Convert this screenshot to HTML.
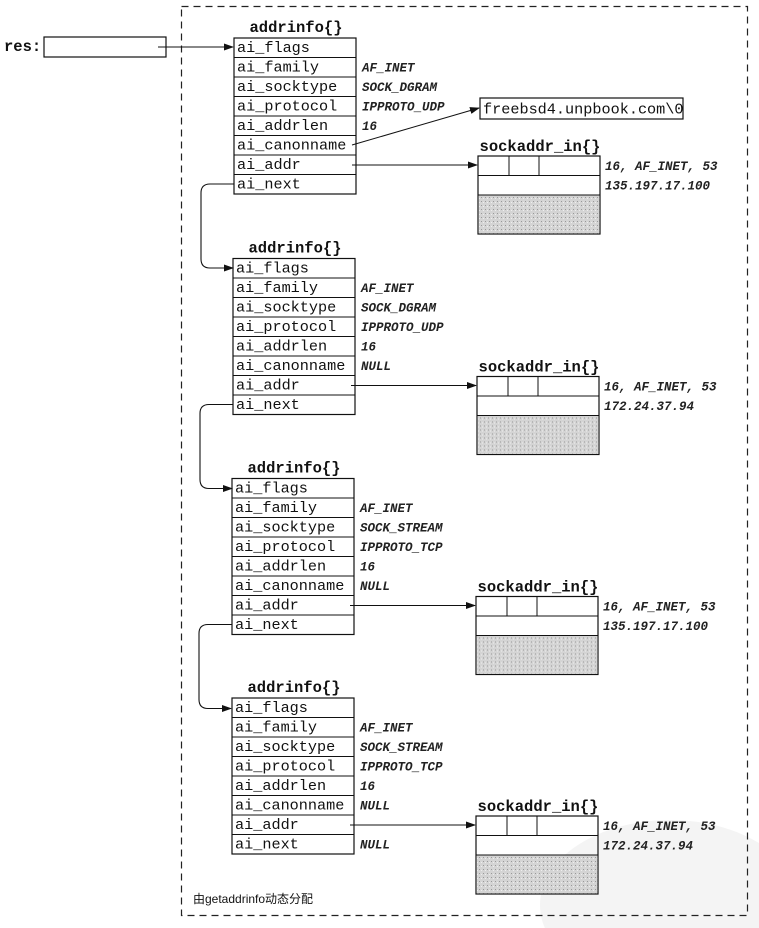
<!DOCTYPE html>
<html><head><meta charset="utf-8"><style>
html,body{margin:0;padding:0;background:#fff;overflow:hidden;width:759px;height:928px}
svg{display:block}
.f{font-family:"Liberation Mono",monospace;font-size:15.2px;fill:#111}
.t{font-family:"Liberation Mono",monospace;font-size:15.5px;font-weight:bold;fill:#111}
.v{font-family:"Liberation Mono",monospace;font-size:12.5px;font-style:italic;font-weight:bold;fill:#222}
.c{font-family:"Liberation Sans","Noto Sans CJK SC",sans-serif;font-size:12px;fill:#111}
</style></head><body>
<svg width="759" height="928" viewBox="0 0 759 928" xmlns="http://www.w3.org/2000/svg">
<defs>
<marker id="a" markerWidth="10" markerHeight="8" refX="9" refY="4" orient="auto" markerUnits="userSpaceOnUse"><path d="M0,0.5 L10,4 L0,7.5Z" fill="#111"/></marker>
<pattern id="g" width="4" height="4" patternUnits="userSpaceOnUse"><rect width="4" height="4" fill="#d4d4d4"/><rect x="1" y="1" width="1" height="1" fill="#999"/><rect x="3" y="2" width="1" height="1" fill="#eee"/></pattern>
<g id="blk">
<text class="t" x="296" y="32" text-anchor="middle">addrinfo{}</text>
<rect x="234" y="38" width="122" height="156" fill="none" stroke="#111" stroke-width="1.2"/>
<g stroke="#111" stroke-width="1"><line x1="234" y1="57.5" x2="356" y2="57.5"/><line x1="234" y1="77" x2="356" y2="77"/><line x1="234" y1="96.5" x2="356" y2="96.5"/><line x1="234" y1="116" x2="356" y2="116"/><line x1="234" y1="135.5" x2="356" y2="135.5"/><line x1="234" y1="155" x2="356" y2="155"/><line x1="234" y1="174.5" x2="356" y2="174.5"/></g>
<text class="f" x="237" y="52">ai_flags</text>
<text class="f" x="237" y="71.5">ai_family</text>
<text class="f" x="237" y="91">ai_socktype</text>
<text class="f" x="237" y="110.5">ai_protocol</text>
<text class="f" x="237" y="130">ai_addrlen</text>
<text class="f" x="237" y="149.5">ai_canonname</text>
<text class="f" x="237" y="169">ai_addr</text>
<text class="f" x="237" y="188.5">ai_next</text>
<text class="t" x="540" y="151" text-anchor="middle">sockaddr_in{}</text>
<rect x="478" y="156" width="122" height="78" fill="none" stroke="#111" stroke-width="1.2"/>
<rect x="478.6" y="195" width="120.8" height="38.4" fill="url(#g)"/>
<g stroke="#111" stroke-width="1"><line x1="478" y1="175.5" x2="600" y2="175.5"/><line x1="478" y1="195" x2="600" y2="195"/><line x1="509" y1="156" x2="509" y2="175.5"/><line x1="539" y1="156" x2="539" y2="175.5"/></g>
<line x1="352" y1="165" x2="477" y2="165" stroke="#111" stroke-width="1" marker-end="url(#a)"/>
<text class="v" x="605" y="170">16, AF_INET, 53</text>
</g>
<path id="nx" d="M234,184 L210,184 Q201,184 201,193 L201,259 Q201,268 210,268 L233,268" fill="none" stroke="#111" stroke-width="1.1" marker-end="url(#a)"/>
</defs>

<ellipse cx="670" cy="905" rx="130" ry="85" fill="#f4f4f4"/>
<rect x="181.5" y="6.5" width="566" height="909" fill="none" stroke="#222" stroke-width="1.2" stroke-dasharray="7,5"/>

<text class="t" x="4" y="51">res:</text>
<rect x="44" y="37" width="122" height="20" fill="none" stroke="#111" stroke-width="1.2"/>
<line x1="158" y1="47" x2="233" y2="47" stroke="#111" stroke-width="1" marker-end="url(#a)"/>

<use href="#blk"/>
<text class="v" x="362" y="71.5">AF_INET</text>
<text class="v" x="362" y="91">SOCK_DGRAM</text>
<text class="v" x="362" y="110.5">IPPROTO_UDP</text>
<text class="v" x="362" y="130">16</text>
<text class="v" x="605" y="189.5">135.197.17.100</text>
<rect x="480" y="98" width="203" height="21" fill="#fff" stroke="#111" stroke-width="1.2"/>
<text class="f" x="483" y="113.5">freebsd4.unpbook.com\0</text>
<line x1="352" y1="145" x2="479" y2="108" stroke="#111" stroke-width="1" marker-end="url(#a)"/>
<use href="#nx"/>

<g transform="translate(-1,220.5)">
<use href="#blk"/>
<text class="v" x="362" y="71.5">AF_INET</text>
<text class="v" x="362" y="91">SOCK_DGRAM</text>
<text class="v" x="362" y="110.5">IPPROTO_UDP</text>
<text class="v" x="362" y="130">16</text>
<text class="v" x="362" y="149.5">NULL</text>
<text class="v" x="605" y="189.5">172.24.37.94</text>
<use href="#nx"/>
</g>

<g transform="translate(-2,440.5)">
<use href="#blk"/>
<text class="v" x="362" y="71.5">AF_INET</text>
<text class="v" x="362" y="91">SOCK_STREAM</text>
<text class="v" x="362" y="110.5">IPPROTO_TCP</text>
<text class="v" x="362" y="130">16</text>
<text class="v" x="362" y="149.5">NULL</text>
<text class="v" x="605" y="189.5">135.197.17.100</text>
<use href="#nx"/>
</g>

<g transform="translate(-2,660)">
<use href="#blk"/>
<text class="v" x="362" y="71.5">AF_INET</text>
<text class="v" x="362" y="91">SOCK_STREAM</text>
<text class="v" x="362" y="110.5">IPPROTO_TCP</text>
<text class="v" x="362" y="130">16</text>
<text class="v" x="362" y="149.5">NULL</text>
<text class="v" x="362" y="188.5">NULL</text>
<text class="v" x="605" y="189.5">172.24.37.94</text>
</g>

<text class="c" x="193" y="903">由getaddrinfo动态分配</text>
</svg>
</body></html>
